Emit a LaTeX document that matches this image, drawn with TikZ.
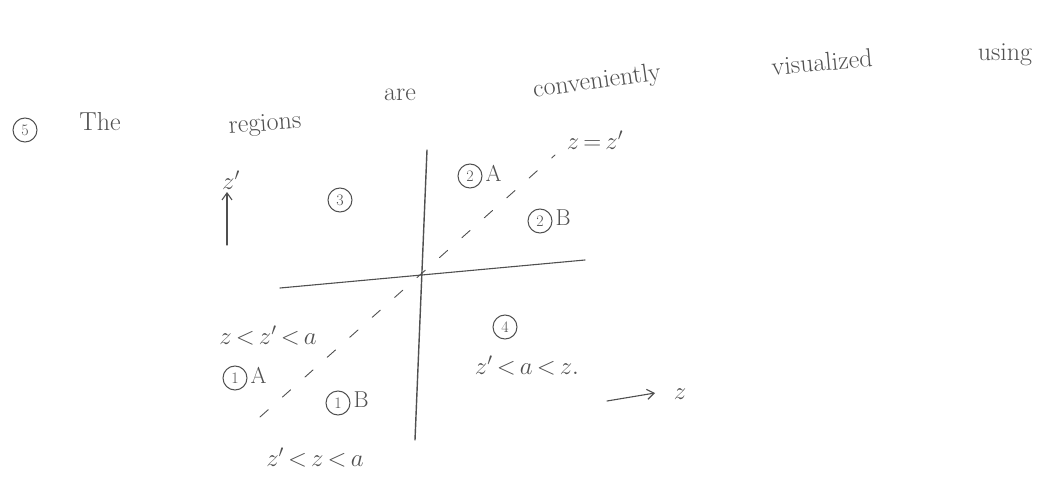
\documentclass[tikz,border=0pt]{standalone}
\usepackage{tikz}
\usetikzlibrary{calc,arrows.meta}
\definecolor{pencil}{RGB}{80,80,80}
\newcommand{\lessthan}{\mathrel{\mkern-2mu<\mkern-2mu}}
\tikzset{
  hand/.style={font=\fontsize{23}{25}\selectfont, text=pencil, inner sep=1pt},
  word/.style={font=\fontsize{26}{28}\selectfont, text=pencil, inner sep=1pt},
  circnum/.style={draw=pencil, circle, line width=1pt, inner sep=2pt, minimum size=24pt, font=\fontsize{16}{17}\selectfont, text=pencil},
  tag/.style={hand, anchor=west, xshift=2pt, yshift=3pt},
  stroke/.style={draw=pencil, line width=1.1pt},
}
\begin{document}
\begin{tikzpicture}[>={Straight Barb[length=7pt,width=10pt]}, x=1pt, y=-1pt, line cap=round]
\useasboundingbox (0,0) rectangle (1037,487);

% heading line
\node[circnum] (five) at (25,130) {5};
\node[word] (the) at (100,122) {The};
\node[word, rotate=4] (regions) at (265,125) {regions};
\node[word] (are) at (400,95) {are};
\node[word, rotate=8] (conv) at (597,82) {conveniently};
\node[word, rotate=5] (visual) at (822,62) {visualized};
\node[word] (using) at (1005,55) {using};

% axes
\coordinate (vtop) at (427,150);
\coordinate (vbot) at (415,440);
\coordinate (hleft) at (280,288);
\coordinate (hright) at (585,260);
\draw[stroke, line width=1.4pt] (vtop) -- (vbot);
\draw[stroke] (hleft) -- (hright);

% diagonal z = z'
\coordinate (dlow) at (260,417);
\coordinate (dhigh) at (555,155);
\draw[stroke, line width=0.9pt, dash pattern=on 11pt off 19pt] (dlow) -- (dhigh);
\node[hand] (diag) at (595,140) {$z\mathrel{\mkern-2mu=\mkern-2mu}z'$};

% direction arrows
\node[hand] (zp) at (231,180) {$z'$};
\coordinate (zpfoot) at (227,245);
\coordinate (zphead) at (227,192);
\draw[->, stroke] (zpfoot) -- (zphead);
\coordinate (zfoot) at (607,401);
\coordinate (zhead) at (655,393);
\draw[->, stroke] (zfoot) -- (zhead);
\node[hand] (z) at (680,394) {$z$};

% regions
\node[circnum] (three) at (340,200) {3};
\node[circnum] (twoA) at (470,176) {2};
\node[tag] (twoAl) at (twoA.east) {A};
\node[circnum] (twoB) at (540,221) {2};
\node[tag] (twoBl) at (twoB.east) {B};
\node[circnum] (four) at (505,327) {4};
\node[hand] (fourl) at (527,366) {$z'\lessthan a\lessthan z.$};
\node[hand] (oneAc) at (268,336) {$z\lessthan z'\lessthan a$};
\node[circnum] (oneA) at (235,378) {1};
\node[tag] (oneAl) at (oneA.east) {A};
\node[circnum] (oneB) at (338,403) {1};
\node[tag] (oneBl) at (oneB.east) {B};
\node[hand] (oneBc) at (315,458) {$z'\lessthan z\lessthan a$};
\end{tikzpicture}
\end{document}
